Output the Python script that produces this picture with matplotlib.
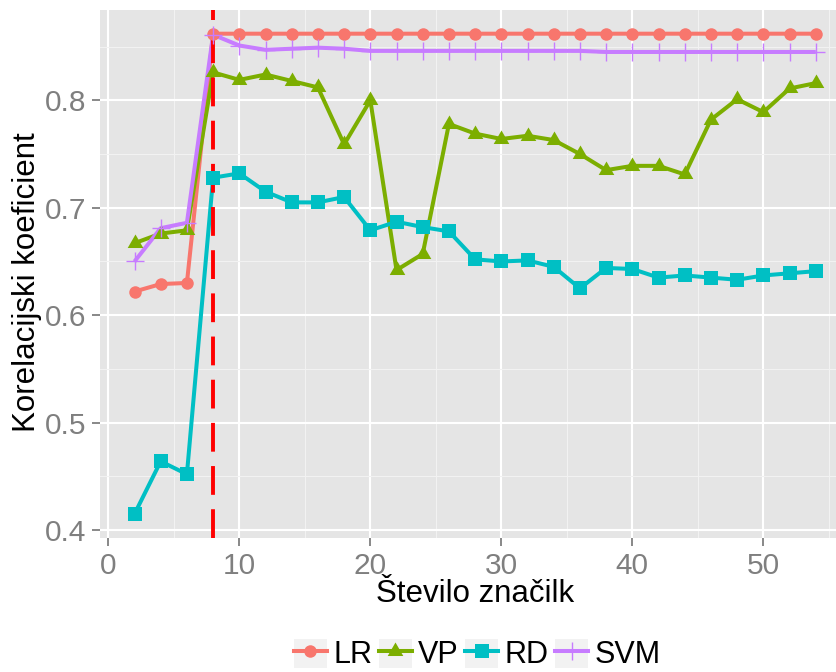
import matplotlib
matplotlib.use("Agg")
import matplotlib.pyplot as plt
from matplotlib.legend_handler import HandlerLine2D
from matplotlib.lines import Line2D
from matplotlib.patches import Rectangle
from matplotlib.ticker import MultipleLocator

plt.rcParams['font.family'] = ['Liberation Sans', 'DejaVu Sans']

# stevilo znacilk
n_feat = [2, 4, 6, 8, 10, 12, 14, 16, 18, 20, 22, 24, 26, 28,
          30, 32, 34, 36, 38, 40, 42, 44, 46, 48, 50, 52, 54]

lr = [0.622, 0.629, 0.630, 0.862, 0.862, 0.862, 0.862, 0.862, 0.862,
      0.862, 0.862, 0.862, 0.862, 0.862, 0.862, 0.862, 0.862, 0.862,
      0.862, 0.862, 0.862, 0.862, 0.862, 0.862, 0.862, 0.862, 0.862]
vp = [0.667, 0.676, 0.679, 0.826, 0.819, 0.824, 0.818, 0.812, 0.759,
      0.800, 0.642, 0.657, 0.778, 0.769, 0.764, 0.767, 0.763, 0.750,
      0.735, 0.739, 0.739, 0.731, 0.782, 0.801, 0.789, 0.811, 0.816]
rd = [0.415, 0.464, 0.452, 0.728, 0.732, 0.715, 0.705, 0.705, 0.710,
      0.679, 0.687, 0.682, 0.678, 0.652, 0.650, 0.651, 0.645, 0.625,
      0.644, 0.643, 0.635, 0.637, 0.635, 0.633, 0.637, 0.639, 0.641]
svm = [0.650, 0.681, 0.686, 0.861, 0.851, 0.847, 0.848, 0.849, 0.848,
       0.846, 0.846, 0.846, 0.846, 0.846, 0.846, 0.846, 0.846, 0.846,
       0.845, 0.845, 0.845, 0.845, 0.845, 0.845, 0.845, 0.845, 0.845]

names = ["LR", "VP", "RD", "SVM"]
series = [lr, vp, rd, svm]
best_n = 8

colors = ["#F8766D", "#7CAE00", "#00BFC4", "#C77CFF"]
tri = [(0, 1), (-0.866, -0.5), (0.866, -0.5)]
markers = ["o", tri, "s", "+"]
msizes = [9, 13, 9.5, 13]
mews = [0, 0, 0, 1.0]


class KeyHandler(HandlerLine2D):
    # ggplot-like key with grey background
    def create_artists(self, legend, orig_handle, xdescent, ydescent,
                       width, height, fontsize, trans):
        bg = Rectangle((-xdescent, -ydescent), width, height,
                       facecolor="#F2F2F2", edgecolor="none", transform=trans)
        arts = super().create_artists(legend, orig_handle, xdescent, ydescent,
                                      width, height, fontsize, trans)
        return [bg] + list(arts)


fig = plt.figure(figsize=(8.37, 6.72), dpi=100)
ax = fig.add_axes([0.1200, 0.1994, 0.8953, 0.7862])
ax.set_facecolor("#E5E5E5")
for s in ax.spines.values():
    s.set_visible(False)

lw = 2.9
for vals, c in zip(series, colors):
    ax.plot(n_feat, vals, color=c, lw=lw, zorder=2, solid_capstyle="butt")

ax.axvline(best_n, color="#FF0000", lw=2.8, linestyle=(0, (7.4, 3.7)), zorder=2.5)

handles = []
for vals, c, m, ms, mew in zip(series, colors, markers, msizes, mews):
    ax.plot(n_feat, vals, linestyle="none", marker=m, markersize=ms,
            color=c, markeredgewidth=mew, zorder=3)
    handles.append(Line2D([], [], color=c, lw=lw, marker=m, markersize=ms,
                          markeredgewidth=mew))

ax.margins(x=0.05, y=0.05)

ax.xaxis.set_major_locator(MultipleLocator(10))
ax.xaxis.set_minor_locator(MultipleLocator(5))
ax.yaxis.set_major_locator(MultipleLocator(0.1))
ax.yaxis.set_minor_locator(MultipleLocator(0.05))
ax.grid(which="major", color="white", lw=1.5)
ax.grid(which="minor", color="#F2F2F2", lw=0.8)
ax.set_axisbelow(True)

ax.tick_params(which="major", length=5.5, width=1.3, color="#7F7F7F",
               labelcolor="#7F7F7F", labelsize=21.5, pad=4.5)
ax.tick_params(which="minor", length=0)

ax.set_xlabel("Število značilk", fontsize=22.5, color="black")
ax.set_ylabel("Korelacijski koeficient", fontsize=22.5, color="black")
ax.xaxis.set_label_coords(0.5, -0.078)
ax.yaxis.set_label_coords(-0.078, 0.485)

fig.legend(handles, names, loc="center", bbox_to_anchor=(0.5700, 0.026),
           ncol=4, frameon=False, fontsize=22, handlelength=1.08,
           handleheight=1.08, handletextpad=0.2, columnspacing=0.22,
           borderpad=0, numpoints=1,
           handler_map={Line2D: KeyHandler()})

fig.savefig("out.png", dpi=100)
